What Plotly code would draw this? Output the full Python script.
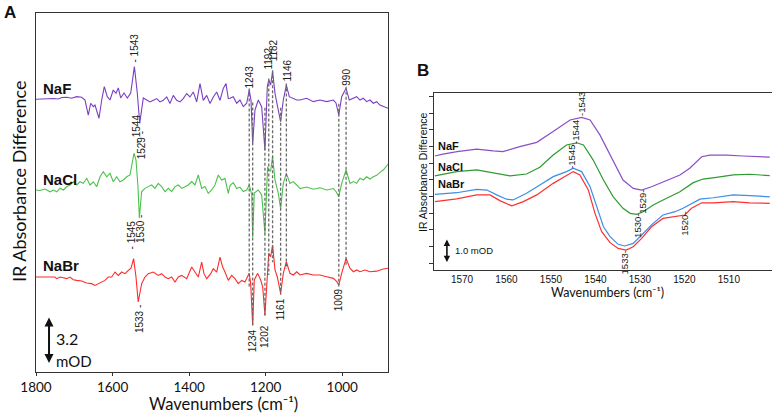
import numpy as np
import plotly.graph_objects as go

W, H = 772, 415

# ---------------- Panel A data (wavenumber, mOD relative to each trace baseline) -------------
naf_wn = [1800, 1784.3, 1768.7, 1753, 1742.5, 1732, 1719.8, 1706.8, 1693.7, 1680.6, 1672, 1663.4,
          1657.1, 1650.3, 1645.9, 1635.4, 1628.4, 1621.6, 1613.8, 1606.7, 1598.1, 1591, 1585,
          1578.8, 1570.1, 1561.5, 1552.6, 1543, 1535.4, 1529, 1519.7, 1510.9, 1502.2, 1493.6,
          1484.7, 1476.1, 1467.5, 1458.6, 1450, 1441.4, 1432.5, 1423.9, 1415.3, 1406.4, 1397.8,
          1389.1, 1380.3, 1371.6, 1363, 1354.1, 1345.5, 1336.9, 1328, 1319.4, 1310.8, 1303.7,
          1297.7, 1293.3, 1284.6, 1275.8, 1267.2, 1258.5, 1249.6, 1243, 1238.4, 1234, 1228,
          1219.3, 1210.5, 1202, 1195.8, 1192, 1187, 1182, 1175.7, 1167.1, 1161, 1154, 1146,
          1138.4, 1127.9, 1119, 1110.4, 1092.9, 1075.7, 1058.2, 1040.7, 1023.4, 1016.4, 1009,
          1001.5, 996.8, 990, 981.7, 971.2, 962.3, 953.7, 945, 936.2, 927.6, 919, 910.1, 901.5,
          892.9, 880.6]
naf_val = [0, 0.02, -0.01, 0.05, 0.02, 0.12, 0.14, 0.07, 0.18, 0.14, -0.05, -1.07,
           -0.27, -0.5, -0.39, -1.29, -0.05, 0.86, 0.18, -0.05, 0.63, 0.41, 0.77,
           0.09, 0.43, 0.09, 0.43, 2.22, 0.43, -1.63, 0.09, -0.07, -0.18, -0.07,
           0.05, -0.18, -0.07, 0.16, -0.29, 0.27, -0.07, -0.18, 0.05, 0.39, 0.16,
           0.50, -0.18, 1.07, -0.07, 0.27, -0.29, 0.16, 0.50, -0.07, 0.73, 1.07,
           0.05, 0.07, 0.18, -0.27, -0.05, -0.5, -0.27, 0.63, -0.05, -3.0, -0.73,
           -0.05, -0.5, -3.45, 0.86, 1.31, 0.97, 1.88, 0.41, -0.73, -1.52, -0.05, 0.97,
           0.18, 0.07, -0.05, -0.05, 0.07, -0.16, -0.05, -0.16, -0.05, -0.25, -1.07,
           0.18, 0.43, 0.75, -0.05, 0.07, 0.18, -0.05, 0.07, -0.16, -0.05, -0.27, -0.16, -0.39,
           -0.5, -0.61]

nacl_wn = [1800, 1789.6, 1776.5, 1763.4, 1754.8, 1745.9, 1737.3, 1728.7, 1719.8, 1711.2, 1702.6,
           1693.7, 1685.1, 1676.5, 1667.6, 1659, 1650.3, 1641.5, 1632.8, 1624.2, 1615.3, 1606.7,
           1598.1, 1589.2, 1580.6, 1572, 1563.1, 1554.5, 1544, 1538.8, 1533.6, 1530, 1524,
           1515.3, 1506.7, 1497.8, 1489.2, 1480.6, 1471.7, 1463.1, 1454.4, 1445.6, 1436.9,
           1428.3, 1419.4, 1410.8, 1402.2, 1393.3, 1384.7, 1376.1, 1367.2, 1358.6, 1350,
           1341.1, 1332.5, 1323.8, 1315, 1306.3, 1297.7, 1293.3, 1284.6, 1275.8, 1267.2,
           1258.5, 1249.6, 1243, 1236.6, 1234, 1229.8, 1219.3, 1210.5, 1202, 1195, 1192, 1187,
           1182, 1175.7, 1167.1, 1161, 1154, 1146, 1136.6, 1127.9, 1119, 1110.4, 1092.9,
           1075.7, 1058.2, 1040.7, 1023.4, 1016.4, 1009, 1001.5, 990, 979.6, 970.8, 962.3,
           953.7, 945, 936.2, 927.6, 919, 910.1, 901.5, 892.9, 880.6]
nacl_val = [0, -0.03, 0.07, -0.12, 0, -0.12, 0.12, 0, 0.22, 0.34, 0.56,
            0.34, 0.56, 0.46, 0.8, 0.34, 0.56, 0.22, 0.9, 1.24, 0.9, 1.14,
            0.56, 0.9, 0.56, 0.68, 0.9, 1.02, 2.5, 2.04, 0.22, -1.9, -0.11,
            0.11, 0.23, 0.34, 0.11, 0.45, 0.23, -0.11, 0.11, -0.11, 0.23,
            0.34, 0.11, 0.23, 0.34, 0.57, 0.34, 1.02, 0.11, 0.23, -0.23,
            0, 0.34, 1.02, 0.68, 0.79, -0.23, 0.3, 0.5, 0.1, 0.2,
            -0.1, 0.0, 0.35, -0.3, -3.2, -0.2, 0.0, -0.34, -2.95, 1.59, 1.36, 1.3,
            2.27, 0.68, -0.23, -1.25, 0.45, 1.13, 0.45, 0.57, 0.34, 0.1, 0.2,
            0.05, 0.15, 0.0, 0.1, -0.1, -0.45, 0.45, 1.36, 0.45, 0.57, 0.45,
            0.8, 0.68, 0.9, 0.75, 0.9, 1.0, 1.2, 1.36, 1.75]

nabr_wn = [1800, 1776.5, 1750.4, 1745.9, 1737.3, 1728.7, 1719.8, 1711.2, 1702.6, 1693.7, 1680.6,
           1667.6, 1654.5, 1645.9, 1637.3, 1628.4, 1619.8, 1611.2, 1602.3, 1593.7, 1585, 1576.2,
           1567.5, 1558.9, 1551.8, 1545, 1538.8, 1533, 1524, 1515.3, 1506.7, 1493.6, 1480.6,
           1471.7, 1463.1, 1454.4, 1445.6, 1436.9, 1428.3, 1419.4, 1406.4, 1393.3, 1384.7,
           1376.1, 1367.2, 1361.2, 1354.1, 1343.7, 1336.9, 1328, 1319.4, 1312.4, 1306.3,
           1297.7, 1288.9, 1280.2, 1271.6, 1262.7, 1254.1, 1245.5, 1243, 1239.2, 1234, 1229.8,
           1220.9, 1213.1, 1207.9, 1202, 1195, 1192, 1187, 1182, 1175.7, 1169.7, 1161, 1154,
           1146, 1136.6, 1127.9, 1119, 1110.4, 1092.9, 1075.7, 1058.2, 1040.7, 1023.4, 1014.6,
           1009, 1001.5, 990, 979.6, 970.8, 962.3, 953.7, 940.6, 927.6, 910.1, 892.9, 880.6]
nabr_val = [0, 0, 0, -0.11, 0, -0.05, -0.11, 0, -0.18, -0.23, -0.27,
            -0.41, -0.45, -0.57, -0.45, -0.34, -0.23, 0, 0, 0.34, 0.11, 0.34,
            0.23, 0.45, 0.6, 1.25, 0.0, -1.7, -0.45, 0, 0.23, 0.34, 0.11,
            0.23, 0, -0.11, 0, -0.34, 0, 0.11, -0.11, 0.68, 0.34,
            0, 1.02, 0.23, -0.11, 0.23, 0.57, 0.34, 1.36, 0.68, 0.34,
            -0.23, 0.11, -0.11, -0.45, -0.23, -0.34, 0.11, 0.25, -0.43, -3.27, -0.2,
            0.25, -0.2, -0.66, -2.58, 0.70, 1.61, 1.39, 2.18, 0.48, 0.02, -1.11, 0.25,
            1.04, 0.25, 0.14, 0.36, 0.14, 0.25, 0.14, 0.14, 0.02, -0.09, -0.3,
            -0.54, 0.25, 1.27, 0.59, 0.36, 0.48, 0.36, 0.48, 0.36, 0.4, 0.55, 0.6]

names_A = ["NaF", "NaCl", "NaBr"]
offsets_A = [12.09, 5.92, 0.0]
colors_A = ["#7a3fc2", "#4cc24c", "#ff2b2b"]

dashed_wn = [1243, 1234, 1202, 1192, 1182, 1161, 1146, 1009, 990]

peak_labels_A = ["- 1543", "1529 -", "- 1544", "1530 -", "- 1545", "1533 -",
                 "1243", "1192", "1182", "1146", "990", "1234", "1202", "1161", "1009"]
peak_label_wn_A = [1542.7, 1523.4, 1538.5, 1525.7, 1548.0, 1531.0,
                   1241.0, 1191.4, 1180.2, 1141.8, 989.8, 1234.0, 1202.0, 1160.6, 1007.8]
peak_label_y_A = [15.58, 8.95, 10.05, 3.27, 2.86, -2.86,
                  13.64, 14.86, 15.44, 14.05, 13.57, -4.32, -4.01, -2.21, -1.56]

# ---------------- Panel B data --------------------------------------------------------------
bF_wn = [1576.1, 1574.3, 1571.1, 1568.2, 1566.7, 1563.0, 1560.8, 1557.0, 1553.2, 1549.6, 1545.7,
         1543.1, 1541.2, 1539.0, 1536.0, 1533.8, 1531.5, 1529.6, 1527.4, 1524.8, 1521.0, 1518.8,
         1516.1, 1514.3, 1510.5, 1506.8, 1503.0, 1500.8]
bF_val = [0.05, 0.13, 0.23, 0.30, 0.34, 0.26, 0.23, 0.44, 0.62, 1.06, 1.55, 1.66, 1.55, 0.93,
          -0.12, -0.95, -1.30, -1.37, -1.23, -1.02, -0.74, -0.46, 0.02, 0.09, 0.09, 0.05, 0.02, 0.00]
bCl_wn = [1576.1, 1571.2, 1566.7, 1563.0, 1559.2, 1555.5, 1552.5, 1549.5, 1546.5, 1544.2, 1542.7,
          1540.5, 1538.2, 1536.0, 1533.8, 1532.2, 1530.7, 1529.3, 1527.0, 1524.0, 1521.0, 1518.0,
          1515.8, 1512.8, 1509.0, 1505.3, 1500.8]
bCl_val = [0.02, 0.20, 0.27, 0.15, 0.02, 0.10, 0.38, 0.89, 1.31, 1.40, 1.31, 0.68, -0.15, -0.85,
           -1.33, -1.54, -1.58, -1.47, -1.19, -0.91, -0.64, -0.26, -0.11, -0.04, 0.06, 0.09, 0.03]
bBr1_wn = [1576.1, 1571.2, 1566.7, 1564.4, 1562.2, 1560.0, 1558.5, 1555.5, 1552.5, 1549.5, 1546.5,
           1545.0, 1543.1, 1541.2, 1539.7, 1538.2, 1536.7, 1534.9, 1533.4, 1531.5, 1529.6, 1527.4,
           1524.8, 1522.1, 1520.3, 1518.0, 1516.5, 1513.5, 1509.0, 1505.3, 1500.8]
bBr1_val = [0.05, 0.12, 0.26, 0.23, 0.03, -0.15, -0.18, 0.10, 0.44, 0.79, 1.00, 1.14, 1.00, 0.37,
            -0.46, -1.30, -1.71, -2.03, -2.10, -1.99, -1.64, -1.22, -0.81, -0.67, -0.53, -0.30,
            -0.15, -0.09, 0.03, 0.00, -0.05]
bBr2_wn = [1576.1, 1571.2, 1566.7, 1563.7, 1561.5, 1558.8, 1556.2, 1553.2, 1549.5, 1546.5, 1545.0,
           1543.5, 1541.6, 1540.1, 1538.6, 1536.7, 1534.9, 1533.1, 1531.5, 1529.6, 1527.4, 1524.8,
           1522.1, 1519.9, 1518.4, 1516.1, 1513.5, 1509.0, 1505.3, 1500.8]
bBr2_val = [0.05, 0.16, 0.33, 0.33, 0.09, -0.13, 0.05, 0.33, 0.81, 1.16, 1.30, 1.16, 0.53, -0.44,
            -1.20, -1.66, -1.90, -1.97, -1.83, -1.48, -1.00, -0.65, -0.58, -0.51, -0.23, 0.00,
            0.00, 0.05, 0.00, -0.02]

offsets_B = [4.7, 3.9, 3.1, 2.8]
colors_B = ["#8a4fc8", "#2f9a2f", "#3b8ee6", "#ff3030"]

peak_labels_B = ["-1543", "-1544", "-1545", "1529-", "1530-", "1533-", "1520-"]
peak_label_wn_B = [1543.0, 1544.6, 1545.3, 1529.6, 1530.7, 1533.5, 1519.9]
peak_label_y_B = [6.92, 5.75, 4.71, 2.83, 1.83, 0.33, 1.92]

x_ticks_A = [1800, 1600, 1400, 1200, 1000]
x_ticks_B = [1570, 1560, 1550, 1540, 1530, 1520, 1510]

# --------------------------------------------------------------------------------------------
def px_x(p):
    return p / W


def px_y(p):
    return 1 - p / H


fig = go.Figure()

A_wn = [naf_wn, nacl_wn, nabr_wn]
A_val = [naf_val, nacl_val, nabr_val]
for wn, val, off, col in zip(A_wn, A_val, offsets_A, colors_A):
    fig.add_trace(go.Scatter(x=wn, y=np.array(val) + off, mode="lines",
                             line=dict(color=col, width=1.1), xaxis="x", yaxis="y",
                             showlegend=False, hoverinfo="skip"))


def local(wn, val, c, fn):
    g = np.linspace(c - 4, c + 4, 33)
    v = np.interp(g, np.array(wn)[::-1], np.array(val)[::-1])
    return fn(v)


for c in dashed_wn:
    top = local(naf_wn, naf_val, c, np.max) + offsets_A[0] + 0.1
    bot = local(nabr_wn, nabr_val, c, np.min) + offsets_A[2] - 0.1
    fig.add_trace(go.Scatter(x=[c, c], y=[top, bot], mode="lines",
                             line=dict(color="#6a6a6a", width=1.3, dash="3px,2px"),
                             xaxis="x", yaxis="y", showlegend=False, hoverinfo="skip"))

B_wn = [bF_wn, bCl_wn, bBr1_wn, bBr2_wn]
B_val = [bF_val, bCl_val, bBr1_val, bBr2_val]
for wn, val, off, col in zip(B_wn, B_val, offsets_B, colors_B):
    fig.add_trace(go.Scatter(x=wn, y=np.array(val) + off, mode="lines",
                             line=dict(color=col, width=1.2), xaxis="x2", yaxis="y2",
                             showlegend=False, hoverinfo="skip"))

ann = []
for t, x, y in zip(peak_labels_A, peak_label_wn_A, peak_label_y_A):
    ann.append(dict(text=t, x=x, y=y, xref="x", yref="y", showarrow=False, textangle=-90,
                    xanchor="center", yanchor="middle",
                    font=dict(family="Liberation Sans, Arial", size=10, color="#222")))
for t, x, y in zip(peak_labels_B, peak_label_wn_B, peak_label_y_B):
    ann.append(dict(text=t, x=x, y=y, xref="x2", yref="y2", showarrow=False, textangle=-90,
                    xanchor="center", yanchor="middle",
                    font=dict(family="Liberation Sans, Arial", size=9.5, color="#222")))

# trace names
for t, yp in zip(names_A, [88, 179, 265]):
    ann.append(dict(text="<b>%s</b>" % t, x=px_x(41), y=px_y(yp), xref="paper", yref="paper",
                    showarrow=False, xanchor="left", yanchor="middle",
                    font=dict(family="Liberation Sans, Arial", size=15, color="#111")))
for t, yp in zip(["NaF", "NaCl", "NaBr"], [146, 167, 184]):
    ann.append(dict(text="<b>%s</b>" % t, x=px_x(436), y=px_y(yp), xref="paper", yref="paper",
                    showarrow=False, xanchor="left", yanchor="middle",
                    font=dict(family="Liberation Sans, Arial", size=11, color="#111")))

# panel letters
ann.append(dict(text="<b>A</b>", x=px_x(2), y=px_y(12), xref="paper", yref="paper",
                showarrow=False, xanchor="left", yanchor="middle",
                font=dict(family="Liberation Sans, Arial", size=17, color="#111")))
ann.append(dict(text="<b>B</b>", x=px_x(415), y=px_y(70), xref="paper", yref="paper",
                showarrow=False, xanchor="left", yanchor="middle",
                font=dict(family="Liberation Sans, Arial", size=17, color="#111")))

# scale bars
ann.append(dict(text="", x=1766, y=-5.85, ax=1766, ay=-2.65, xref="x", yref="y",
                axref="x", ayref="y", showarrow=True, arrowhead=2, arrowside="end+start",
                arrowwidth=2, arrowsize=0.9, arrowcolor="#111"))
ann.append(dict(text="3.2", x=px_x(54), y=px_y(338), xref="paper", yref="paper",
                showarrow=False, xanchor="left", yanchor="middle",
                font=dict(family="Lato", size=16, color="#111")))
ann.append(dict(text="mOD", x=px_x(54), y=px_y(361), xref="paper", yref="paper",
                showarrow=False, xanchor="left", yanchor="middle",
                font=dict(family="Lato", size=15, color="#111")))
ann.append(dict(text="", x=1573.4, y=0.33, ax=1573.4, ay=1.33, xref="x2", yref="y2",
                axref="x2", ayref="y2", showarrow=True, arrowhead=2, arrowside="end+start",
                arrowwidth=1.6, arrowsize=0.8, arrowcolor="#111"))
ann.append(dict(text="1.0 mOD", x=px_x(453), y=px_y(250), xref="paper", yref="paper",
                showarrow=False, xanchor="left", yanchor="middle",
                font=dict(family="Liberation Sans, Arial", size=9.5, color="#111")))

# axis titles as annotations
ann.append(dict(text="IR Absorbance Difference", x=px_x(19), y=px_y(182), xref="paper",
                yref="paper", showarrow=False, textangle=-90, xanchor="center", yanchor="middle",
                font=dict(family="Lato", size=18, color="#111")))
ann.append(dict(text="Wavenumbers (cm\u207b\u00b9)", x=px_x(224), y=0, xref="paper",
                yref="paper", showarrow=False, xanchor="center", yanchor="bottom", borderpad=0,
                font=dict(family="Lato", size=16.5, color="#111")))
ann.append(dict(text="IR Absorbance Difference", x=px_x(423), y=px_y(172), xref="paper",
                yref="paper", showarrow=False, textangle=-90, xanchor="center", yanchor="middle",
                font=dict(family="Liberation Sans, Arial", size=10.5, color="#111")))
ann.append(dict(text="Wavenumbers (cm\u207b\u00b9)", x=px_x(607), y=px_y(292), xref="paper",
                yref="paper", showarrow=False, xanchor="center", yanchor="middle",
                font=dict(family="Lato", size=12.5, color="#111")))

fig.update_layout(
    template="none",
    width=W, height=H, margin=dict(l=0, r=0, t=0, b=0, pad=0, autoexpand=False),
    paper_bgcolor="white", plot_bgcolor="white", showlegend=False,
    xaxis=dict(domain=[px_x(36), px_x(388)], range=[1800, 880.5], tickvals=x_ticks_A,
               ticks="outside", ticklen=3, tickcolor="#333", showline=True, linecolor="#333",
               linewidth=1.2, mirror=True, showgrid=False, zeroline=False, automargin=False,
               tickfont=dict(family="Lato", size=13.5, color="#111"), anchor="y"),
    yaxis=dict(domain=[px_y(372), px_y(13)], range=[-6.46, 17.96], showticklabels=False,
               ticks="", showline=True, linecolor="#333", linewidth=1.2, mirror=True,
               showgrid=False, zeroline=False, anchor="x", automargin=False),
    xaxis2=dict(domain=[px_x(434), 1.0], range=[1576.3, 1500.3], tickvals=x_ticks_B,
                ticks="", showline=True, linecolor="#333", linewidth=1.4, mirror=True,
                showgrid=False, zeroline=False, automargin=False,
                tickfont=dict(family="Liberation Sans, Arial", size=10, color="#111"),
                anchor="y2"),
    yaxis2=dict(domain=[px_y(270), px_y(93)], range=[0, 7.375], showticklabels=False,
                ticks="outside", ticklen=4, tickcolor="#333", tick0=1.667, dtick=0.695,
                showline=True, linecolor="#333", linewidth=1.4, mirror=True,
                showgrid=False, zeroline=False, anchor="x2", automargin=False),
    annotations=ann,
)

fig.write_html("out.html", config={"displayModeBar": False},
               post_script="document.body.style.margin='0';document.body.style.overflow='hidden';")
